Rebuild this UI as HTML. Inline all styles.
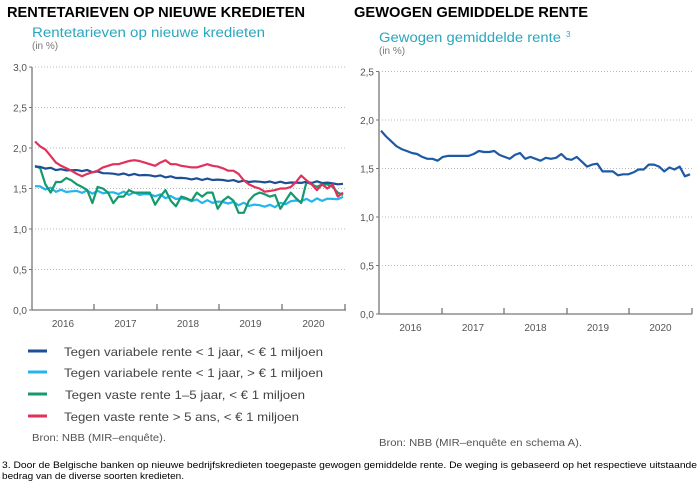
<!DOCTYPE html>
<html><head><meta charset="utf-8"><style>
body{margin:0;background:#fff;width:700px;height:484px;overflow:hidden;font-family:"Liberation Sans",sans-serif}
</style></head><body>
<svg id="s" width="700" height="484" xmlns="http://www.w3.org/2000/svg" font-family="Liberation Sans, sans-serif">
<text x="7" y="17" font-size="15" font-weight="bold" fill="#000" textLength="298" lengthAdjust="spacingAndGlyphs">RENTETARIEVEN OP NIEUWE KREDIETEN</text>
<text x="354" y="17" font-size="15" font-weight="bold" fill="#000" textLength="234" lengthAdjust="spacingAndGlyphs">GEWOGEN GEMIDDELDE RENTE</text>
<text x="32" y="37" font-size="13.5" fill="#2aa7bd" textLength="233" lengthAdjust="spacingAndGlyphs">Rentetarieven op nieuwe kredieten</text>
<text x="32" y="49" font-size="10" fill="#777">(in %)</text>
<text x="379" y="42" font-size="13.5" fill="#2aa7bd" textLength="182" lengthAdjust="spacingAndGlyphs">Gewogen gemiddelde rente</text>
<text x="566" y="37" font-size="8" fill="#2aa7bd">3</text>
<text x="379" y="54" font-size="10" fill="#777">(in %)</text>
<g id="g"></g>
<g font-size="12" fill="#444">
<line x1="28" y1="351" x2="47" y2="351" stroke="#1d4e96" stroke-width="3"/><text x="64" y="356" textLength="259" lengthAdjust="spacingAndGlyphs">Tegen variabele rente &lt; 1 jaar, &lt; € 1 miljoen</text>
<line x1="28" y1="372" x2="47" y2="372" stroke="#22b5ee" stroke-width="3"/><text x="64" y="377" textLength="259" lengthAdjust="spacingAndGlyphs">Tegen variabele rente &lt; 1 jaar, &gt; € 1 miljoen</text>
<line x1="28" y1="394" x2="47" y2="394" stroke="#149a6c" stroke-width="3"/><text x="65" y="399" textLength="240" lengthAdjust="spacingAndGlyphs">Tegen vaste rente 1–5 jaar, &lt; € 1 miljoen</text>
<line x1="28" y1="416" x2="47" y2="416" stroke="#e1315b" stroke-width="3"/><text x="64" y="421" textLength="235" lengthAdjust="spacingAndGlyphs">Tegen vaste rente &gt; 5 ans, &lt; € 1 miljoen</text>
</g>
<text x="32" y="441" font-size="10" fill="#555" textLength="134" lengthAdjust="spacingAndGlyphs">Bron: NBB (MIR–enquête).</text>
<text x="379" y="446" font-size="10" fill="#555" textLength="203" lengthAdjust="spacingAndGlyphs">Bron: NBB (MIR–enquête en schema A).</text>
<text x="2" y="468" font-size="9.5" fill="#000" textLength="695" lengthAdjust="spacingAndGlyphs">3. Door de Belgische banken op nieuwe bedrijfskredieten toegepaste gewogen gemiddelde rente. De weging is gebaseerd op het respectieve uitstaande</text>
<text x="2" y="479" font-size="9.5" fill="#000" textLength="182" lengthAdjust="spacingAndGlyphs">bedrag van de diverse soorten kredieten.</text>
</svg>
<script>
var g=document.getElementById('g'),h='';
function axis(ax,y0,ppu,max,step,x1,ticks){
 for(var v=0;v<=max+1e-9;v+=step){var y=y0-v*ppu;
  h+='<text x="'+(ax-5)+'" y="'+(y+4)+'" font-size="10" fill="#555" text-anchor="end">'+v.toFixed(1).replace('.',',')+'</text>';
  h+='<line x1="'+(ax-3)+'" y1="'+y+'" x2="'+ax+'" y2="'+y+'" stroke="#777"/>';
  if(v>0)h+='<line x1="'+(ax+3)+'" y1="'+y+'" x2="'+x1+'" y2="'+y+'" stroke="#bbb" stroke-dasharray="1,2"/>';}
 h+='<line x1="'+ax+'" y1="'+(y0-max*ppu)+'" x2="'+ax+'" y2="'+y0+'" stroke="#777" stroke-width="1.3"/>';
 h+='<line x1="'+ax+'" y1="'+y0+'" x2="'+x1+'" y2="'+y0+'" stroke="#777" stroke-width="1.3"/>';
 var yrs=['2016','2017','2018','2019','2020'],prev=ax;
 ticks.forEach(function(t,i){h+='<line x1="'+t+'" y1="'+(y0-6)+'" x2="'+t+'" y2="'+y0+'" stroke="#777" stroke-width="1.3"/>';
  h+='<text x="'+((prev+t)/2)+'" y="'+(y0+17)+'" font-size="10" fill="#555" text-anchor="middle">'+yrs[i]+'</text>';prev=t;});
}
function line(d,xs,xe,y0,ppu,c){var p=[];for(var i=0;i<d.length;i++)p.push((xs+(xe-xs)*i/(d.length-1)).toFixed(1)+','+(y0-d[i]*ppu).toFixed(1));
 h+='<polyline points="'+p.join(' ')+'" fill="none" stroke="'+c+'" stroke-width="2.2" stroke-linejoin="round"/>';}
function interp(k,n,j){var r=[];for(var i=0;i<n;i++){var t=i/(n-1)*(k.length-1),a=Math.floor(t),b=Math.min(a+1,k.length-1),f=t-a;r.push(k[a]*(1-f)+k[b]*f+j*Math.sin(i*2.7));}return r;}
axis(32,310,81,3,0.5,346,[94,157,219,282,345]);
axis(379,314,97,2.5,0.5,692,[442,504,567,629,692]);
var dark=interp([1.77,1.73,1.72,1.68,1.67,1.65,1.62,1.61,1.59,1.58,1.57,1.58,1.55],60,0.01);
var light=interp([1.53,1.47,1.46,1.45,1.44,1.42,1.38,1.34,1.33,1.30,1.28,1.35,1.36,1.38],60,0.02);
var green=[1.78,1.75,1.55,1.45,1.58,1.58,1.63,1.6,1.55,1.52,1.48,1.32,1.52,1.5,1.45,1.32,1.4,1.4,1.48,1.45,1.45,1.45,1.45,1.3,1.4,1.48,1.35,1.28,1.4,1.38,1.35,1.45,1.4,1.45,1.45,1.25,1.35,1.4,1.35,1.2,1.2,1.35,1.42,1.45,1.43,1.4,1.42,1.25,1.35,1.45,1.38,1.32,1.58,1.55,1.52,1.55,1.55,1.52,1.45,1.42];
var red=[2.08,2.02,1.98,1.9,1.82,1.78,1.75,1.72,1.68,1.65,1.68,1.7,1.72,1.76,1.78,1.8,1.8,1.82,1.84,1.85,1.84,1.82,1.8,1.78,1.82,1.85,1.8,1.8,1.78,1.77,1.76,1.76,1.78,1.8,1.78,1.77,1.75,1.72,1.72,1.68,1.6,1.55,1.52,1.5,1.46,1.47,1.48,1.5,1.5,1.52,1.58,1.66,1.6,1.55,1.48,1.55,1.5,1.55,1.4,1.45];
var w=[1.89,1.83,1.78,1.73,1.7,1.68,1.66,1.65,1.62,1.6,1.6,1.58,1.62,1.63,1.63,1.63,1.63,1.63,1.65,1.68,1.67,1.67,1.68,1.64,1.62,1.6,1.64,1.66,1.6,1.62,1.6,1.58,1.61,1.6,1.61,1.65,1.6,1.59,1.62,1.57,1.52,1.54,1.55,1.47,1.47,1.47,1.43,1.44,1.44,1.46,1.49,1.49,1.54,1.54,1.52,1.47,1.51,1.49,1.52,1.42,1.44];
line(light,35,343,310,81,'#22b5ee');
line(green,35,343,310,81,'#149a6c');
line(dark,35,343,310,81,'#1d4e96');
line(red,35,343,310,81,'#e1315b');
line(w,381,690,314,97,'#1d5aa6');
g.innerHTML=h;
</script>
</body></html>
